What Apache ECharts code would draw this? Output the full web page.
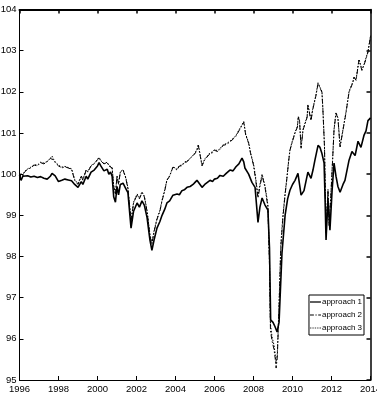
<!DOCTYPE html>
<html>
<head>
<meta charset="utf-8">
<script src="https://cdn.jsdelivr.net/npm/echarts@6/dist/echarts.min.js"></script>
<style>
html,body{margin:0;padding:0;background:#fff;}
#chart{width:377px;height:397px;}
</style>
</head>
<body>
<div id="chart"></div>
<script>
// time points (decimal years) for approach 1
var t1 = [
1996.0,1996.08,1996.17,1996.25,1996.42,1996.58,1996.75,1996.92,1997.08,1997.25,
1997.42,1997.58,1997.67,1997.83,1998.0,1998.17,1998.33,1998.5,1998.67,1998.83,
1999.0,1999.17,1999.25,1999.42,1999.5,1999.67,1999.83,2000.0,2000.08,2000.17,
2000.33,2000.5,2000.58,2000.67,2000.75,2000.83,2000.92,2001.0,2001.08,2001.17,
2001.31,2001.45,2001.56,2001.72,2001.85,2002.03,2002.15,2002.28,2002.4,2002.54,
2002.69,2002.79,2002.9,2003.05,2003.2,2003.31,2003.45,2003.56,2003.7,2003.87,
2004.08,2004.2,2004.33,2004.45,2004.59,2004.75,2004.9,2005.0,2005.1,2005.17,
2005.36,2005.5,2005.77,2005.9,2006.0,2006.15,2006.28,2006.45,2006.6,2006.79,
2006.95,2007.1,2007.25,2007.41,2007.5,2007.56,2007.75,2007.92,2008.08,2008.23,
2008.33,2008.44,2008.59,2008.74,2008.82,2008.88,2009.0,2009.1,2009.21,2009.31,
2009.46,2009.62,2009.75,2009.87,2010.0,2010.13,2010.28,2010.44,2010.59,2010.79,
2010.95,2011.05,2011.15,2011.31,2011.41,2011.51,2011.62,2011.67,2011.72,2011.78,
2011.82,2011.92,2012.03,2012.13,2012.23,2012.33,2012.44,2012.59,2012.69,2012.9,
2013.05,2013.21,2013.36,2013.51,2013.67,2013.77,2013.87,2013.97,2014.0
];
var approach1 = [
99.98,99.85,99.95,99.92,99.96,99.93,99.95,99.92,99.94,99.9,
99.88,99.95,100.02,99.96,99.82,99.85,99.88,99.86,99.84,99.75,
99.68,99.82,99.75,99.95,99.88,100.05,100.1,100.2,100.28,100.2,
100.08,100.12,100.0,100.05,99.95,99.45,99.32,99.7,99.5,99.75,
99.78,99.65,99.55,98.69,99.1,99.3,99.2,99.35,99.25,98.95,
98.4,98.15,98.4,98.69,98.85,99.0,99.15,99.3,99.35,99.49,
99.52,99.5,99.6,99.62,99.68,99.7,99.75,99.8,99.85,99.88,
99.68,99.75,99.85,99.82,99.88,99.9,99.97,99.95,100.02,100.1,
100.08,100.18,100.25,100.39,100.3,100.15,100.0,99.8,99.68,98.83,
99.2,99.42,99.25,99.13,98.2,96.46,96.4,96.3,96.17,96.4,
98.08,99.0,99.4,99.61,99.75,99.85,100.02,99.49,99.6,100.05,
99.9,100.1,100.34,100.7,100.65,100.5,100.27,99.4,98.4,99.0,
99.4,98.64,99.6,100.27,99.95,99.7,99.56,99.75,99.85,100.34,
100.55,100.45,100.8,100.65,100.95,101.05,101.3,101.35,101.37
];
// time points (decimal years) for approaches 2 and 3
var t2 = [
1996.0,1996.08,1996.17,1996.25,1996.42,1996.58,1996.75,1996.92,1997.08,1997.25,
1997.42,1997.58,1997.67,1997.75,1997.83,1998.0,1998.17,1998.33,1998.5,1998.67,
1998.83,1999.0,1999.17,1999.25,1999.42,1999.5,1999.67,1999.83,2000.0,2000.08,
2000.17,2000.33,2000.5,2000.58,2000.67,2000.75,2000.83,2000.92,2001.0,2001.08,
2001.17,2001.31,2001.45,2001.56,2001.72,2001.85,2002.03,2002.15,2002.28,2002.4,
2002.54,2002.69,2002.79,2002.9,2003.05,2003.2,2003.31,2003.45,2003.56,2003.7,
2003.87,2004.08,2004.2,2004.33,2004.45,2004.59,2004.75,2004.9,2005.0,2005.1,
2005.17,2005.36,2005.5,2005.77,2005.9,2006.0,2006.15,2006.28,2006.45,2006.6,
2006.79,2006.95,2007.1,2007.25,2007.41,2007.5,2007.6,2007.75,2007.85,2008.0,
2008.1,2008.23,2008.33,2008.44,2008.59,2008.74,2008.82,2008.87,2008.95,2009.05,
2009.12,2009.16,2009.22,2009.3,2009.4,2009.51,2009.62,2009.72,2009.8,2009.87,
2010.0,2010.13,2010.25,2010.3,2010.36,2010.44,2010.54,2010.75,2010.79,2010.95,
2011.03,2011.2,2011.31,2011.45,2011.51,2011.56,2011.64,2011.72,2011.78,2011.82,
2011.88,2011.97,2012.05,2012.13,2012.23,2012.33,2012.44,2012.59,2012.74,2012.9,
2013.1,2013.15,2013.26,2013.41,2013.56,2013.67,2013.87,2013.97,2014.0
];
var approach2 = [
99.9,100.0,99.95,100.05,100.12,100.15,100.22,100.2,100.28,100.25,
100.3,100.38,100.42,100.35,100.28,100.2,100.15,100.18,100.15,100.12,
99.85,99.75,99.95,99.85,100.1,100.05,100.2,100.25,100.35,100.4,
100.32,100.25,100.28,100.2,100.2,100.15,99.7,99.5,99.95,99.75,
100.05,100.1,99.9,99.65,98.85,99.3,99.5,99.4,99.55,99.45,
99.1,98.5,98.3,98.6,98.9,99.1,99.35,99.6,99.85,99.95,
100.17,100.1,100.2,100.2,100.28,100.3,100.38,100.45,100.5,100.58,
100.7,100.2,100.35,100.5,100.52,100.58,100.55,100.6,100.7,100.72,
100.78,100.85,100.92,101.05,101.18,101.26,100.95,100.75,100.5,100.22,
99.9,99.42,99.7,99.97,99.68,99.2,97.8,96.2,95.95,95.75,
95.5,95.29,95.55,96.6,98.2,98.96,99.5,99.93,100.3,100.58,
100.8,101.0,101.14,101.38,101.3,100.63,101.07,101.38,101.67,101.3,
101.55,101.9,102.2,102.05,101.99,101.55,100.66,98.55,99.2,99.6,
98.75,99.5,100.27,101.07,101.48,101.35,100.66,101.07,101.48,101.99,
102.23,102.35,102.28,102.77,102.52,102.65,102.96,103.25,103.35
];
var approach3 = [
99.92,100.02,99.97,100.06,100.13,100.17,100.23,100.22,100.29,100.27,
100.31,100.39,100.44,100.36,100.3,100.22,100.17,100.19,100.16,100.13,
99.87,99.77,99.96,99.87,100.11,100.06,100.21,100.26,100.36,100.41,
100.33,100.26,100.29,100.22,100.21,100.16,99.72,99.52,99.96,99.77,
100.06,100.11,99.92,99.67,98.88,99.32,99.52,99.42,99.57,99.47,
99.12,98.53,98.33,98.62,98.92,99.12,99.37,99.62,99.86,99.96,
100.18,100.12,100.21,100.22,100.29,100.32,100.39,100.46,100.52,100.6,
100.72,100.22,100.37,100.52,100.54,100.6,100.57,100.62,100.72,100.74,
100.8,100.87,100.94,101.07,101.2,101.28,100.97,100.77,100.52,100.25,
99.95,99.48,99.75,100.0,99.72,99.25,97.9,96.35,96.05,95.85,
95.6,95.4,95.62,96.7,98.3,99.0,99.53,99.95,100.32,100.6,
100.82,101.02,101.16,101.4,101.32,100.66,101.09,101.4,101.69,101.32,
101.57,101.92,102.22,102.07,102.01,101.58,100.7,98.65,99.25,99.63,
98.8,99.53,100.3,101.09,101.5,101.37,100.68,101.09,101.5,102.01,
102.25,102.37,102.3,102.79,102.54,102.67,102.98,103.27,103.37
];
var xTicks = [1996,1998,2000,2002,2004,2006,2008,2010,2012,2014];
var yTicks = [95,96,97,98,99,100,101,102,103,104];
var seriesNames = ['approach 1','approach 2','approach 3'];

function pairs(t, v){ var out=[]; for(var i=0;i<t.length && i<v.length;i++){ out.push([t[i], v[i]]); } return out; }

var FONT = '"Liberation Sans Narrow","Liberation Sans",Arial,sans-serif';
var chart = echarts.init(document.getElementById('chart'), null, {renderer:'canvas'});
function axisCommon(w){
  return {
    axisLine:{show:true,onZero:false,lineStyle:{color:'#000',width:w}},
    axisTick:{show:true,inside:true,length:4,lineStyle:{color:'#000',width:Math.min(w,1.5)}},
    splitLine:{show:false}
  };
}
var icons = [
  'path://M0,0h14v1.6H0z',
  'path://M0,0h5v1.1H0zM7,0h1.5v1.1H7zM10.5,0h3.5v1.1h-3.5z',
  'path://M0,0h1v1.1H0zM2.2,0h1v1.1h-1zM4.4,0h1v1.1h-1zM6.6,0h1v1.1h-1zM8.8,0h1v1.1h-1zM11,0h1v1.1h-1zM13,0h1v1.1h-1z'
];
chart.setOption({
  animation:false,
  backgroundColor:'#fff',
  grid:{left:19.5,right:6.5,top:9.5,bottom:17,containLabel:false,outerBoundsMode:'none'},
  legend:{
    orient:'vertical', right:13, top:295,
    data:seriesNames.map(function(n,i){return {name:n,icon:icons[i]};}),
    itemWidth:11, itemHeight:1.5, itemGap:5,
    padding:[3,2,3,1],
    borderColor:'#000', borderWidth:1, borderRadius:0,
    backgroundColor:'#fff',
    textStyle:{fontFamily:FONT,fontSize:8,color:'#000',padding:[0,0,0,-4]}
  },
  xAxis:[
    Object.assign({type:'value',min:xTicks[0],max:xTicks[xTicks.length-1],interval:2,position:'bottom',
      axisLabel:{color:'#000',fontFamily:FONT,fontSize:9.5,margin:4,formatter:function(v){return String(v);}}},axisCommon(1)),
    Object.assign({type:'value',min:xTicks[0],max:xTicks[xTicks.length-1],interval:2,position:'top',
      axisLabel:{show:false}},axisCommon(2))
  ],
  yAxis:[
    Object.assign({type:'value',min:yTicks[0],max:yTicks[yTicks.length-1],interval:1,position:'left',
      axisLabel:{color:'#000',fontFamily:FONT,fontSize:9.5,margin:3}},axisCommon(1)),
    Object.assign({type:'value',min:yTicks[0],max:yTicks[yTicks.length-1],interval:1,position:'right',
      axisLabel:{show:false}},axisCommon(1.5))
  ],
  series:[
    {name:seriesNames[0],type:'line',data:pairs(t1,approach1),showSymbol:false,symbol:'none',
      lineStyle:{color:'#000',width:1.6,type:'solid'},itemStyle:{color:'#000'}},
    {name:seriesNames[1],type:'line',data:pairs(t2,approach2),showSymbol:false,symbol:'none',
      lineStyle:{color:'#000',width:1,type:[5,2,1.5,2]},itemStyle:{color:'#000'}},
    {name:seriesNames[2],type:'line',data:pairs(t2,approach3),showSymbol:false,symbol:'none',
      lineStyle:{color:'#000',width:1,type:[1.5,1.5]},itemStyle:{color:'#000'}}
  ]
});
</script>
</body>
</html>
